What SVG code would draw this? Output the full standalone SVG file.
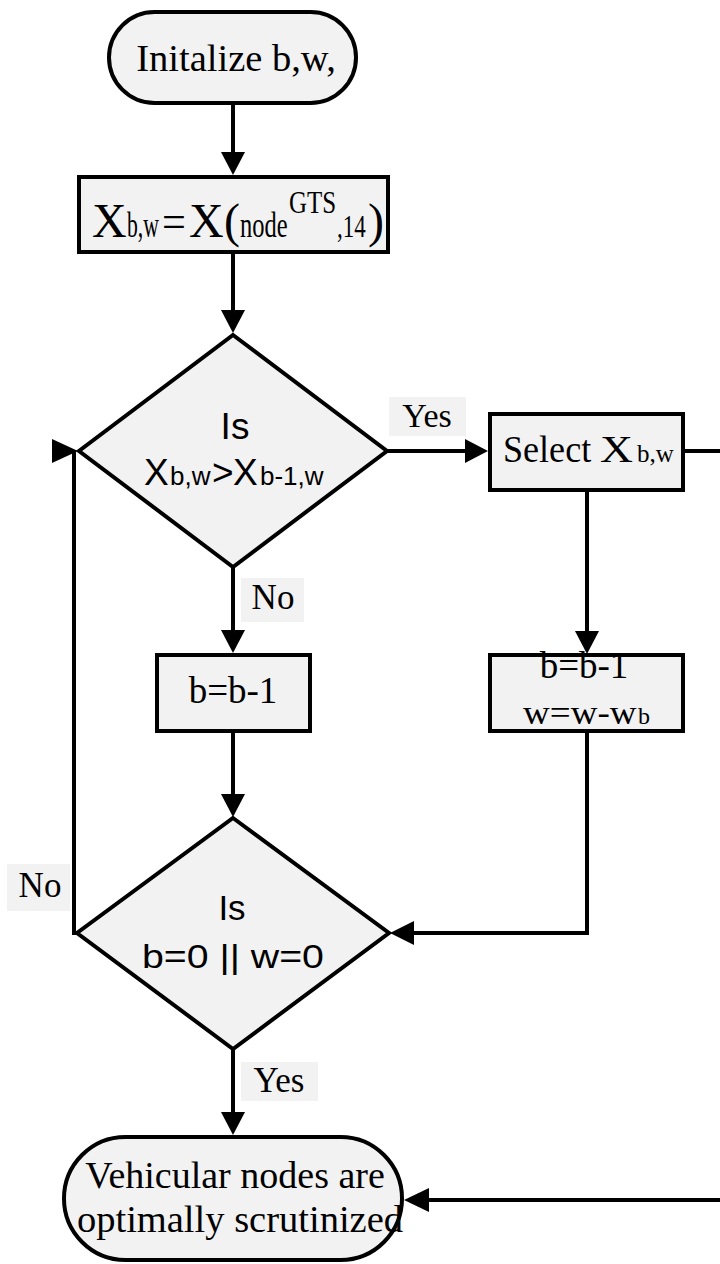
<svg xmlns="http://www.w3.org/2000/svg" width="720" height="1264" viewBox="0 0 720 1264">
  <style>
    .shape { fill: #f2f2f2; stroke: #000; stroke-width: 4; }
    .outline { fill: none; stroke: #000; stroke-width: 4; }
    .wire { fill: none; stroke: #000; stroke-width: 4; }
    .head { fill: #000; stroke: none; }
    .lbl { fill: #f2f2f2; stroke: none; }
    .serif { font-family: "Liberation Serif", "Times New Roman", serif; fill: #000; }
    .sans { font-family: "Liberation Sans", Arial, sans-serif; fill: #000; }
    .mid { text-anchor: middle; }
  </style>

  <rect width="720" height="1264" fill="#fff"/>

  <!-- connectors -->
  <g id="connectors">
    <line class="wire" x1="233" y1="105" x2="233" y2="154"/>
    <polygon class="head" points="221,152 245,152 233,175"/>

    <line class="wire" x1="233" y1="254" x2="233" y2="312"/>
    <polygon class="head" points="221,310 245,310 233,333"/>

    <line class="wire" x1="387" y1="451" x2="467" y2="451"/>
    <polygon class="head" points="465,439 465,463 488,451"/>

    <path class="wire" d="M683,451 H726 V1200 H427"/>
    <polygon class="head" points="429,1188 429,1212 404,1200"/>

    <line class="wire" x1="587" y1="490" x2="587" y2="633"/>
    <polygon class="head" points="575,631 599,631 587,654"/>

    <path class="wire" d="M587,731 V933 H412"/>
    <polygon class="head" points="414,921 414,945 390,933"/>

    <line class="wire" x1="233" y1="567" x2="233" y2="632"/>
    <polygon class="head" points="221,630 245,630 233,653"/>

    <line class="wire" x1="233" y1="731" x2="233" y2="796"/>
    <polygon class="head" points="221,794 245,794 233,817"/>

    <path class="wire" d="M78,933 H74 V451"/>
    <polygon class="head" points="52,439 52,463 78,451"/>

    <line class="wire" x1="233" y1="1049" x2="233" y2="1114"/>
    <polygon class="head" points="221,1112 245,1112 233,1135"/>

    <rect class="lbl" x="389" y="397" width="77" height="39"/>
    <text class="serif mid" x="427" y="427" font-size="34">Yes</text>

    <rect class="lbl" x="241" y="578" width="63" height="44"/>
    <text class="serif mid" x="273" y="609" font-size="35">No</text>

    <rect class="lbl" x="7" y="864" width="63" height="47"/>
    <text class="serif mid" x="40" y="897" font-size="35">No</text>

    <rect class="lbl" x="241" y="1062" width="77" height="39"/>
    <text class="serif mid" x="279" y="1092" font-size="35">Yes</text>
  </g>

  <!-- start terminal -->
  <g id="start">
    <rect class="shape" x="109" y="12" width="247" height="91" rx="45.5"/>
    <text class="serif mid" x="236" y="71" font-size="38.5">Initalize b,w,</text>
  </g>

  <!-- initial value box: X_{b,w} = X(node^GTS, 14) -->
  <g id="init-x">
    <rect class="shape" x="79" y="177" width="309" height="75"/>
    <text class="serif" x="92" y="237" font-size="48">X</text>
    <text class="serif" transform="translate(127,237) scale(0.62,1)" font-size="35">b,w</text>
    <text class="serif" transform="translate(162,237) scale(0.92,1)" font-size="46">=</text>
    <text class="serif" x="189" y="237" font-size="48">X</text>
    <text class="serif" x="224" y="237" font-size="48">(</text>
    <text class="serif" transform="translate(240,237) scale(0.7,1)" font-size="35">node</text>
    <text class="serif" transform="translate(289,213) scale(0.78,1)" font-size="32">GTS</text>
    <text class="serif" transform="translate(337,237) scale(0.72,1)" font-size="32">,14</text>
    <text class="serif" x="368" y="237" font-size="48">)</text>
  </g>

  <!-- first decision -->
  <g id="compare">
    <polygon class="shape" points="233,335 387,451 233,567 79,451"/>
    <text class="sans mid" x="235" y="439" font-size="37">Is</text>
    <text class="sans" x="144" y="485" font-size="37">X</text>
    <text class="sans" x="170" y="485" font-size="26">b,w</text>
    <text class="sans" x="212" y="485" font-size="37">&gt;</text>
    <text class="sans" x="233" y="485" font-size="37">X</text>
    <text class="sans" x="260" y="485" font-size="26">b-1,w</text>
  </g>

  <!-- select box -->
  <g id="select">
    <rect class="shape" x="490" y="414" width="193" height="76"/>
    <text class="serif" transform="translate(503,462) scale(0.95,1)" font-size="38">Select</text>
    <text class="serif" transform="translate(600,462) scale(1.2,1)" font-size="38">X</text>
    <text class="serif" x="637" y="462" font-size="25">b,w</text>
  </g>

  <!-- update after selection -->
  <g id="update-bw">
    <rect x="490" y="655" width="193" height="76" fill="#f2f2f2"/>
    <text class="serif mid" x="584" y="678" font-size="37">b=b-1</text>
    <text class="serif" transform="translate(523,724) scale(1.09,1)" font-size="34">w=w-w</text>
    <text class="serif" x="638" y="724" font-size="24">b</text>
    <rect class="outline" x="490" y="655" width="193" height="76"/>
  </g>

  <!-- decrement b -->
  <g id="update-b">
    <rect class="shape" x="157" y="655" width="153" height="76"/>
    <text class="serif mid" x="233" y="703" font-size="37">b=b-1</text>
  </g>

  <!-- second decision -->
  <g id="stop-check">
    <polygon class="shape" points="233,818 389,933 233,1049 77,933"/>
    <text class="sans mid" x="232" y="920" font-size="35">Is</text>
    <text class="sans" transform="translate(142,968) scale(1.19,1)" font-size="33">b=0 || w=0</text>
  </g>

  <!-- end terminal -->
  <g id="end">
    <rect class="shape" x="64" y="1137" width="338" height="123" rx="61.5"/>
    <text class="serif mid" x="235" y="1188" font-size="38">Vehicular nodes are</text>
    <text class="serif mid" x="240" y="1232" font-size="38.5">optimally scrutinized</text>
  </g>
</svg>
